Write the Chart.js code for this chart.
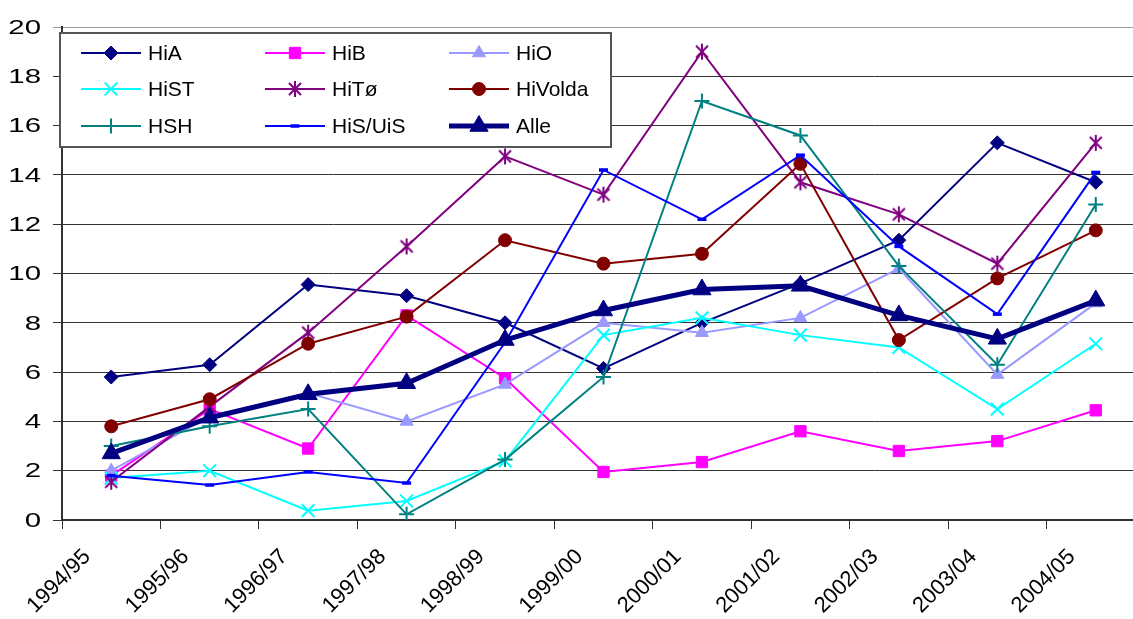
<!DOCTYPE html>
<html>
<head>
<meta charset="utf-8">
<script src="https://cdn.jsdelivr.net/npm/chart.js@4/dist/chart.umd.min.js"></script>
<style>
  html, body { margin: 0; padding: 0; background: #fff; overflow: hidden; }
  #wrap { width: 1133px; height: 619px; overflow: hidden; }
</style>
</head>
<body>
<div id="wrap"><canvas id="chart" width="1160" height="619"></canvas></div>
<script>
// --- data ---
const categories = ['1994/95', '1995/96', '1996/97', '1997/98', '1998/99', '1999/00',
                    '2000/01', '2001/02', '2002/03', '2003/04', '2004/05'];
const yTicks = [0, 2, 4, 6, 8, 10, 12, 14, 16, 18, 20];

const hiA     = [5.8, 6.3, 9.55, 9.1, 8.0, 6.15, 8.0, 9.6, 11.35, 15.3, 13.7];
const hiB     = [1.8, 4.5, 2.9, 8.3, 5.75, 1.95, 2.35, 3.6, 2.8, 3.2, 4.45];
const hiO     = [2.0, 4.2, 5.15, 4.0, 5.5, 8.0, 7.6, 8.2, 10.2, 5.9, 8.8];
const hiST    = [1.7, 2.0, 0.38, 0.77, 2.4, 7.5, 8.2, 7.5, 7.0, 4.5, 7.15];
const hiTo    = [1.55, 4.6, 7.6, 11.1, 14.75, 13.2, 19.0, 13.7, 12.4, 10.4, 15.3];
const hiVolda = [3.8, 4.9, 7.15, 8.25, 11.35, 10.4, 10.8, 14.45, 7.3, 9.8, 11.75];
const hsh     = [3.0, 3.8, 4.5, 0.23, 2.45, 5.8, 17.0, 15.6, 10.3, 6.3, 12.8];
const hiSUiS  = [1.8, 1.42, 1.95, 1.5, 7.2, 14.2, 12.2, 14.8, 11.1, 8.35, 14.1];
const alle    = [2.7, 4.15, 5.1, 5.55, 7.3, 8.5, 9.35, 9.5, 8.3, 7.35, 8.9];

const FONT = "'Liberation Sans', Arial, sans-serif";

// Excel style asterisk marker (X with a vertical bar)
function asteriskMarker(color) {
    const c = document.createElement('canvas');
    c.width = 18; c.height = 18;
    const g = c.getContext('2d');
    g.strokeStyle = color;
    g.lineWidth = 2;
    g.beginPath();
    g.moveTo(3, 3); g.lineTo(15, 15);
    g.moveTo(15, 3); g.lineTo(3, 15);
    g.moveTo(9, 1); g.lineTo(9, 17);
    g.stroke();
    return c;
}

function series(label, data, color, style, radius, extra) {
    return Object.assign({
        label: label,
        data: data,
        borderColor: color,
        backgroundColor: color,
        borderWidth: 2,
        pointStyle: style,
        pointRadius: radius,
        pointHoverRadius: radius,
        pointBackgroundColor: color,
        pointBorderColor: color,
        pointBorderWidth: 1,
        tension: 0
    }, extra || {});
}

const datasets = [
    series('HiA', hiA, '#000080', 'rectRot', 7),
    series('HiB', hiB, '#FF00FF', 'rect', 8),
    series('HiO', hiO, '#9999FF', 'triangle', 7.5),
    series('HiST', hiST, '#00FFFF', 'crossRot', 9, { pointBorderWidth: 2 }),
    series('HiTø', hiTo, '#800080', asteriskMarker('#800080'), 8),
    series('HiVolda', hiVolda, '#800000', 'circle', 6.5),
    series('HSH', hsh, '#008080', 'cross', 7.5, { pointBorderWidth: 2 }),
    series('HiS/UiS', hiSUiS, '#0000FF', 'line', 4.5, { pointBorderWidth: 3.5 }),
    series('Alle', alle, '#000080', 'triangle', 10.5, { borderWidth: 5 })
];
// later series are painted on top, like the original
datasets.forEach((d, i) => { d.order = datasets.length - i; });

// y labels in the original are drawn wide (stretched horizontally)
const wideYLabels = {
    id: 'wideYLabels',
    afterDraw(chart, args, opts) {
        const ctx = chart.ctx;
        const y = chart.scales.y;
        ctx.save();
        ctx.font = opts.size + 'px ' + FONT;
        ctx.fillStyle = '#000';
        ctx.textAlign = 'right';
        ctx.textBaseline = 'middle';
        yTicks.forEach(v => {
            const py = y.getPixelForValue(v);
            ctx.save();
            ctx.translate(opts.right, py + 1);
            ctx.scale(opts.stretch, 1);
            ctx.fillText(String(v), 0, 0);
            ctx.restore();
        });
        ctx.restore();
    }
};

// --- legend box drawn inside the plot, 3 columns x 3 rows ---
const boxLegend = {
    id: 'boxLegend',
    afterDatasetsDraw(chart, args, opts) {
        const ctx = chart.ctx;
        ctx.save();
        ctx.fillStyle = '#fff';
        ctx.fillRect(opts.left, opts.top, opts.width, opts.height);
        ctx.strokeStyle = '#555';
        ctx.lineWidth = 2;
        ctx.strokeRect(opts.left, opts.top, opts.width, opts.height);

        ctx.font = '21px ' + FONT;
        ctx.textBaseline = 'middle';
        ctx.textAlign = 'left';
        chart.data.datasets.forEach((ds, i) => {
            const col = i % 3, row = Math.floor(i / 3);
            const x = opts.cols[col], y = opts.rows[row];
            ctx.strokeStyle = ds.borderColor;
            ctx.lineWidth = ds.borderWidth;
            ctx.beginPath();
            ctx.moveTo(x, y);
            ctx.lineTo(x + opts.lineLen, y);
            ctx.stroke();

            ctx.fillStyle = ds.pointBackgroundColor;
            ctx.strokeStyle = ds.pointBorderColor;
            ctx.lineWidth = ds.pointBorderWidth;
            Chart.helpers.drawPoint(ctx, {
                pointStyle: ds.pointStyle,
                radius: ds.pointRadius,
                rotation: 0,
                borderWidth: ds.pointBorderWidth
            }, x + opts.lineLen / 2, y);

            ctx.fillStyle = '#000';
            ctx.fillText(ds.label, x + opts.lineLen + 7, y + 1);
        });
        ctx.restore();
    }
};

const chart = new Chart(document.getElementById('chart'), {
    type: 'line',
    data: { labels: categories, datasets: datasets },
    plugins: [boxLegend, wideYLabels],
    options: {
        responsive: false,
        animation: false,
        devicePixelRatio: 1,
        layout: { padding: { top: 27, right: 15, bottom: 0, left: 0 } },
        plugins: {
            legend: { display: false },
            tooltip: { enabled: false },
            boxLegend: {
                left: 60, top: 33, width: 551, height: 114,
                cols: [81, 265, 449], rows: [53, 89, 126], lineLen: 60
            },
            wideYLabels: { right: 41, size: 21, stretch: 1.4 }
        },
        scales: {
            x: {
                offset: true,
                afterFit: (scale) => { scale.height = 99; },
                grid: {
                    offset: true,
                    drawOnChartArea: false,
                    drawTicks: true,
                    tickLength: 9,
                    color: '#333'
                },
                border: { display: true, color: '#333', width: 2 },
                ticks: {
                    autoSkip: false,
                    minRotation: 45,
                    maxRotation: 45,
                    labelOffset: -24,
                    padding: 15,
                    color: '#000',
                    font: { family: FONT, size: 22 }
                }
            },
            y: {
                min: 0,
                max: 20,
                afterFit: (scale) => { scale.width = 62; },
                afterBuildTicks: (scale) => { scale.ticks = yTicks.map(v => ({ value: v })); },
                grid: {
                    drawTicks: true,
                    tickLength: 9,
                    lineWidth: 1,
                    color: (c) => (c.tick && c.tick.value === 20) ? '#999' : '#333'
                },
                border: { display: true, color: '#333', width: 2 },
                ticks: {
                    display: false,
                    font: { family: FONT, size: 21 }
                }
            }
        }
    }
});
</script>
</body>
</html>
